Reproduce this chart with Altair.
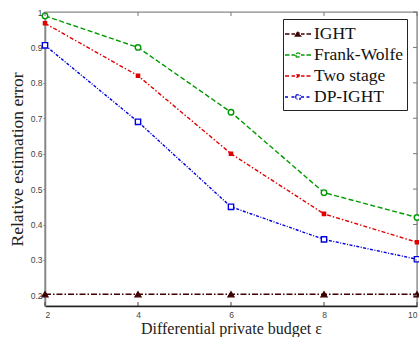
import altair as alt
import pandas as pd

eps = [2, 4, 6, 8, 10]
series_names = ["IGHT", "Frank-Wolfe", "Two stage", "DP-IGHT"]
ight = [0.203, 0.203, 0.203, 0.203, 0.203]
frank_wolfe = [0.989, 0.900, 0.717, 0.490, 0.420]
two_stage = [0.968, 0.820, 0.600, 0.430, 0.350]
dp_ight = [0.906, 0.690, 0.450, 0.358, 0.302]
x_ticks = [2, 4, 6, 8, 10]
y_ticks = [0.2, 0.3, 0.4, 0.5, 0.6, 0.7, 0.8, 0.9, 1.0]

colors = ["#3f0000", "#009900", "#e00000", "#0000e0"]
fills = ["#3f0000", "#ffffff", "#e00000", "#ffffff"]
dashes = [[6, 2, 1.5, 2], [5, 2.5], [4, 2, 1.5, 2], [3, 1.5, 1, 1.5]]
shapes = ["triangle-up", "circle", "square", "square"]
sizes = [34, 30, 10, 28]

W, H = 372, 294

rows = []
for name, vals in zip(series_names, [ight, frank_wolfe, two_stage, dp_ight]):
    for e, v in zip(eps, vals):
        rows.append({"eps": e, "err": v, "series": name})
df = pd.DataFrame(rows)

dash_seg = "M-1.3,0L-0.85,0M-0.65,0L-0.3,0M0.3,0L0.65,0M0.85,0L1.3,0"
leg_paths = [
    dash_seg + "M-0.27,0.2L0.27,0.2L0,-0.27Z",
    dash_seg + "M-0.22,0A0.22,0.22 0 1,0 0.22,0A0.22,0.22 0 1,0 -0.22,0Z",
    dash_seg + "M-0.12,-0.12L0.12,-0.12L0.12,0.12L-0.12,0.12Z",
    dash_seg + "M-0.22,-0.22L0.22,-0.22L0.22,0.22L-0.22,0.22Z",
]

xs = alt.Scale(domain=[2, 10], nice=False, zero=False)
ys = alt.Scale(domain=[0.17, 1.0], nice=False, zero=False)
cscale = alt.Scale(domain=series_names, range=colors)
fscale = alt.Scale(domain=series_names, range=fills)

serif = "Liberation Serif"
sans = "Liberation Sans"
x_title = "Differential private budget \u03b5"
y_title = "Relative estimation error"

x_axis = alt.Axis(values=x_ticks, format="d", ticks=False, grid=False,
                  domainColor="#222222", domainWidth=1.3, labelOverlap=False,
                  labelFont=sans, labelFontSize=8.5, labelColor="#444444",
                  labelPadding=4, titleFont=serif, titleFontSize=16,
                  titleFontWeight="normal", titleColor="#222222", titlePadding=2)
y_axis = alt.Axis(values=y_ticks, format="~g", ticks=True, tickSize=2,
                  tickColor="#777777", grid=False, labelOverlap=False,
                  domainColor="#888888", domainWidth=1.6,
                  labelFont=sans, labelFontSize=8.5, labelColor="#444444",
                  labelPadding=1, titleFont=serif, titleFontSize=17.5,
                  titleFontWeight="normal", titleColor="#222222", titlePadding=4)

def xe(field):
    return alt.X(field + ":Q", scale=xs, title=x_title, axis=x_axis)

def ye(field):
    return alt.Y(field + ":Q", scale=ys, title=y_title, axis=y_axis)

legend_def = alt.Legend(title=None, orient="none", legendX=238, legendY=7,
                        strokeColor="#222222", fillColor="white", padding=4,
                        labelFont=serif, labelFontSize=17.5, labelColor="#111111",
                        labelFontWeight="normal",
                        labelOffset=5, symbolSize=400, symbolStrokeWidth=1.3,
                        rowPadding=1, cornerRadius=0)

lines = alt.Chart(df).mark_line(strokeWidth=1.4).encode(
    x=xe("eps"), y=ye("err"),
    stroke=alt.Stroke("series:N", scale=cscale, legend=legend_def),
    strokeDash=alt.StrokeDash("series:N", scale=alt.Scale(domain=series_names, range=dashes), legend=None),
)

point_layers = []
for name, shp, sz, fl in zip(series_names, shapes, sizes, fills):
    point_layers.append(
        alt.Chart(df).transform_filter(alt.datum.series == name)
        .mark_point(shape=shp, size=sz, fill=fl, filled=True, strokeWidth=1.4, opacity=1)
        .encode(x=xe("eps"), y=ye("err"),
                stroke=alt.Stroke("series:N", scale=cscale, legend=legend_def))
    )

legend_layer = alt.Chart(df).mark_point(strokeWidth=1.3, opacity=0, filled=True).encode(
    x=xe("eps"), y=ye("err"),
    stroke=alt.Stroke("series:N", scale=cscale, legend=legend_def),
    fill=alt.Fill("series:N", scale=fscale, legend=legend_def),
    shape=alt.Shape("series:N", scale=alt.Scale(domain=series_names, range=leg_paths), legend=legend_def),
    size=alt.value(400),
)

xt = pd.DataFrame({"t": x_ticks})
yt = pd.DataFrame({"t": y_ticks})
top_ticks = alt.Chart(xt).mark_rule(color="#777777", strokeWidth=1).encode(
    x=xe("t"), y=alt.value(0), y2=alt.value(4))
bot_ticks = alt.Chart(xt).mark_rule(color="#444444", strokeWidth=1).encode(
    x=xe("t"), y=alt.value(H), y2=alt.value(H - 4))
right_ticks = alt.Chart(yt).mark_rule(color="#777777", strokeWidth=1).encode(
    y=ye("t"), x=alt.value(W), x2=alt.value(W - 4))

chart = alt.layer(lines, *point_layers, legend_layer, top_ticks, bot_ticks, right_ticks).properties(
    width=W, height=H,
    autosize=alt.AutoSizeParams(type="none"),
    padding={"left": 45, "top": 12, "right": 2, "bottom": 31},
    background="white",
).configure_view(stroke="#888888", strokeWidth=1.4).configure_legend(
    labelFont=serif, labelFontSize=17.5, labelColor="#111111", labelFontWeight="normal"
)

chart.save("out.html", embed_options={"renderer": "svg", "actions": False})
